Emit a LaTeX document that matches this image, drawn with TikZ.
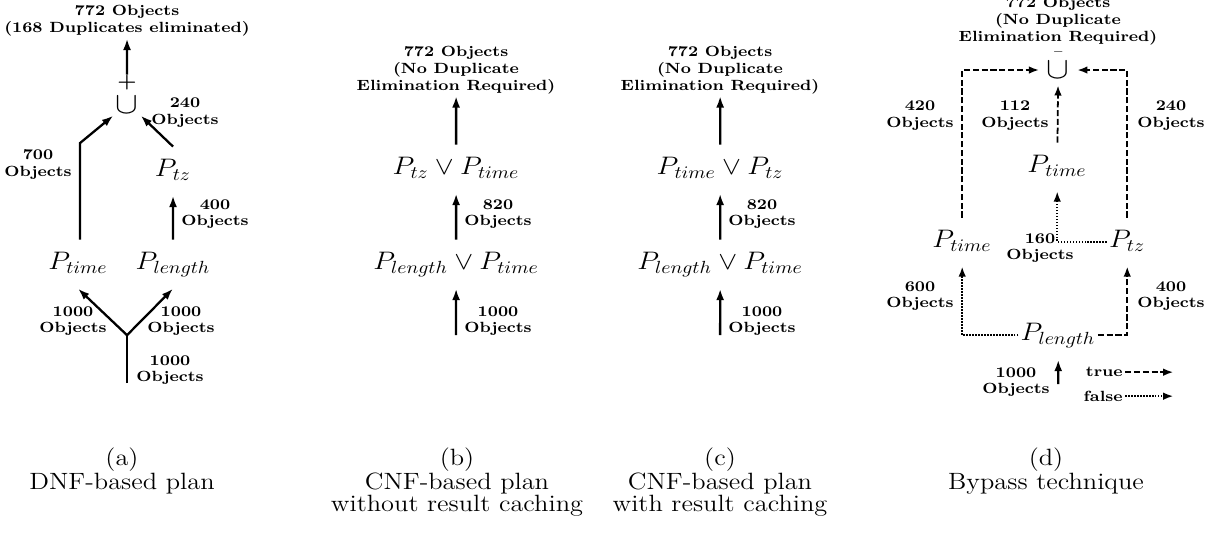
\documentclass[tikz,border=0pt]{standalone}
\usepackage{tikz}
\usetikzlibrary{arrows.meta, positioning, calc}
\usepackage{amsmath}

\begin{document}
\begin{tikzpicture}[
  x=0.017857cm, y=-0.02cm, xscale=1.12,
  every node/.append style={transform shape},
  count/.style={font=\fontsize{8.4}{9.6}\selectfont\bfseries, align=center, inner sep=1pt},
  pred/.style={font=\fontsize{14.5}{17}\selectfont, inner xsep=1pt, inner ysep=7pt, text height=10pt, text depth=3.5pt},
  op/.style={font=\fontsize{18}{20}\selectfont, inner sep=1pt},
  caption/.style={font=\fontsize{13.4}{12.6}\selectfont, align=center, anchor=north, inner sep=0pt},
  arrow/.style={-{Latex[length=2.3mm, width=1.6mm]}, line width=1.3pt},
  flow/.style={line width=1.3pt},
  truearrow/.style={-{Latex[length=2mm, width=1.5mm]}, line width=1pt, dash pattern=on 3.5pt off 1.5pt},
  falsearrow/.style={-{Latex[length=2mm, width=1.5mm]}, line width=1pt, dash pattern=on 0.8pt off 0.9pt}
]
\useasboundingbox (0,0) rectangle (1205,537);

% === (a) DNF-based plan ===
\node[count] (a-out) at (127,21) {772 Objects\\(168 Duplicates eliminated)};
\node[op, label={[font=\fontsize{11}{12}\selectfont\boldmath, inner sep=0pt, label distance=2.5pt, name=a-plus]90:$+$}] (a-union) at (127,105) {$\cup$};
\node[pred] (a-tz) at (173,171) {$P_{tz}$};
\node[pred] (a-time) at (78,264) {$P_{time}$};
\node[pred] (a-length) at (173,264) {$P_{length}$};
\coordinate (a-bend) at (80,143);
\coordinate (a-fork) at (127,335);
\coordinate (a-in) at (127,383);

\draw[arrow] (a-plus) -- (a-out);
\draw[arrow] (a-time.north -| a-bend) -- (a-bend) -- (a-union.south west);
\draw[arrow] (a-tz.north) -- (a-union.south east);
\draw[arrow] (a-length) -- (a-tz);
\draw[flow] (a-in) -- (a-fork);
\draw[arrow] (a-fork) -- (a-time.south);
\draw[arrow] (a-fork) -- (a-length.south);

\node[count] (a-n240) at (185,113) {240\\Objects};
\node[count] (a-n700) at (38,164) {700\\Objects};
\node[count] (a-n400) at (215,214) {400\\Objects};
\node[count] (a-n1000l) at (73,321) {1000\\Objects};
\node[count] (a-n1000r) at (181,321) {1000\\Objects};
\node[count] (a-n1000b) at (170,370) {1000\\Objects};

% === (b) CNF-based plan without caching ===
\node[count] (b-out) at (456,70) {772 Objects\\(No Duplicate\\Elimination Required)};
\node[pred] (b-or2) at (456,169) {$P_{tz} \vee P_{time}$};
\node[pred] (b-or1) at (456,264) {$P_{length} \vee P_{time}$};
\coordinate (b-in) at (456,335);

\draw[arrow] (b-in) -- (b-or1);
\draw[arrow] (b-or1) -- (b-or2);
\draw[arrow] (b-or2) -- (b-out);

\node[count] (b-n820) at (498,214) {820\\Objects};
\node[count] (b-n1000) at (498,321) {1000\\Objects};

% === (c) CNF-based plan with caching ===
\node[count] (c-out) at (720,70) {772 Objects\\(No Duplicate\\Elimination Required)};
\node[pred] (c-or2) at (720,169) {$P_{time} \vee P_{tz}$};
\node[pred] (c-or1) at (720,264) {$P_{length} \vee P_{time}$};
\coordinate (c-in) at (720,335);

\draw[arrow] (c-in) -- (c-or1);
\draw[arrow] (c-or1) -- (c-or2);
\draw[arrow] (c-or2) -- (c-out);

\node[count] (c-n820) at (762,214) {820\\Objects};
\node[count] (c-n1000) at (762,321) {1000\\Objects};

% === (d) Bypass technique ===
\node[count] (d-out) at (1058,21) {772 Objects\\(No Duplicate\\Elimination Required)};
\node[op, outer sep=3pt, label={[font=\fontsize{6}{7}\selectfont, inner sep=0pt, label distance=-1pt, name=d-bar]90:$-$}] (d-union) at (1058,70) {$\cup$};
\node[pred] (d-time2) at (1057,167) {$P_{time}$};
\node[pred] (d-time1) at (962,242) {$P_{time}$};
\node[pred] (d-tz) at (1127,242) {$P_{tz}$};
\node[pred] (d-length) at (1058,335) {$P_{length}$};
\coordinate (d-in) at (1058,384);

\draw[truearrow] (d-time1) |- (d-union);
\draw[truearrow] (d-tz) |- (d-union);
\draw[truearrow] (d-time2) -- (d-union);
\draw[falsearrow] (d-tz) -| (d-time2);
\draw[falsearrow] (d-length) -| (d-time1);
\draw[truearrow] (d-length) -| (d-tz);
\draw[arrow] (d-in) -- (d-length);

\node[count] (d-n420) at (920,116) {420\\Objects};
\node[count] (d-n112) at (1015,116) {112\\Objects};
\node[count] (d-n240) at (1171,116) {240\\Objects};
\node[count] (d-n160) at (1040,248) {160\\Objects};
\node[count] (d-n600) at (920,296) {600\\Objects};
\node[count] (d-n400) at (1171,296) {400\\Objects};
\node[count] (d-n1000) at (1016,382) {1000\\Objects};

% legend
\node[count, anchor=east] (d-true) at (1125,372) {true};
\node[count, anchor=east] (d-false) at (1125,396) {false};
\coordinate (d-true-end) at (1173,372);
\coordinate (d-false-end) at (1173,396);
\draw[truearrow] (d-true) -- (d-true-end);
\draw[falsearrow] (d-false) -- (d-false-end);

% captions
\node[caption] (a-cap) at (122,447) {(a)\\DNF-based plan};
\node[caption] (b-cap) at (457,447) {(b)\\CNF-based plan\\without result caching};
\node[caption] (c-cap) at (720,447) {(c)\\CNF-based plan\\with result caching};
\node[caption] (d-cap) at (1046,447) {(d)\\Bypass technique};

\end{tikzpicture}
\end{document}
